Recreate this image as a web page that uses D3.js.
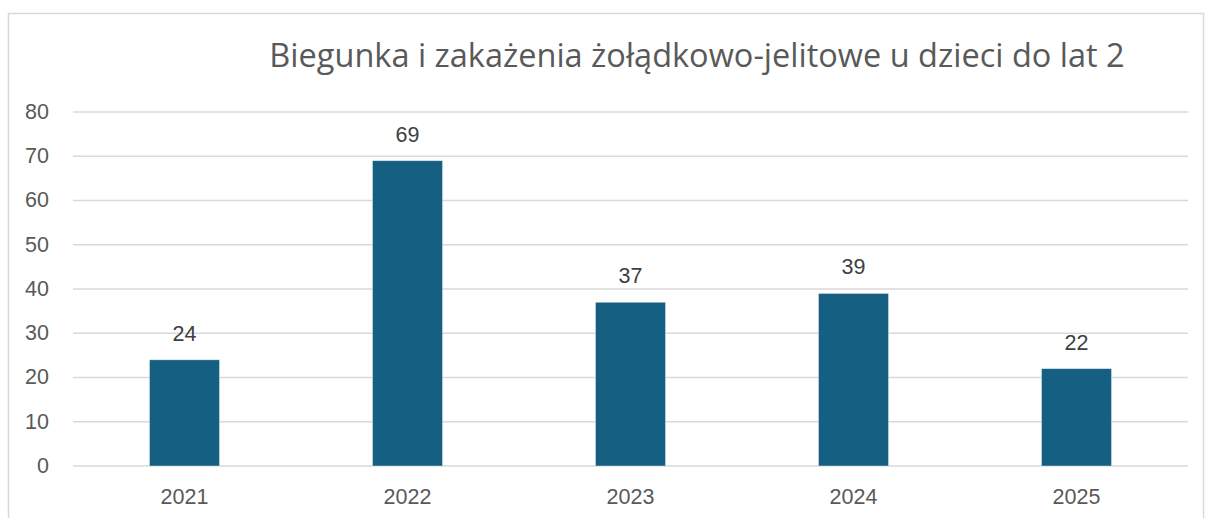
<!DOCTYPE html>
<html>
<head>
<meta charset="utf-8">
<script src="https://cdn.jsdelivr.net/npm/d3@7"></script>
<style>
  body { margin: 0; background: #fff; }
  svg { display: block; }
</style>
</head>
<body>
<svg id="chart" width="1207" height="518"></svg>
<script>
const years = ['2021', '2022', '2023', '2024', '2025'];
const cases = [24, 69, 37, 39, 22];
const yTicks = [0, 10, 20, 30, 40, 50, 60, 70, 80];
const title = 'Biegunka i zakażenia żołądkowo-jelitowe u dzieci do lat 2';

const svg = d3.select('#chart');
const cs = {
  bar: '#156082',
  grid: '#d9d9d9',
  text: '#595959',
  label: '#404040',
  font: '"Liberation Sans", Arial, sans-serif',
  fontSize: '21.5px',
  left: 73,
  right: 1188,
  top: 112,
  bottom: 466,
};

// chart frame
svg.append('rect')
  .attr('x', 8.5).attr('y', 13.5)
  .attr('width', 1195).attr('height', 520)
  .attr('fill', '#fff')
  .attr('stroke', '#d9d9d9')
  .attr('stroke-width', 1.5);

const x = d3.scaleBand().domain(years).range([cs.left, cs.right]).paddingInner(0.686).paddingOuter(0.343);
const y = d3.scaleLinear().domain([0, 80]).range([cs.bottom, cs.top]);

// gridlines
svg.append('g')
  .selectAll('line')
  .data(yTicks)
  .join('line')
  .attr('x1', cs.left).attr('x2', cs.right)
  .attr('y1', d => y(d)).attr('y2', d => y(d))
  .attr('stroke', cs.grid)
  .attr('stroke-width', 1.5);

// y axis labels
const yAxis = svg.append('g')
  .attr('transform', `translate(${cs.left - 24},0)`)
  .call(d3.axisLeft(y).tickValues(yTicks).tickSize(0).tickPadding(0));
yAxis.select('.domain').remove();
yAxis.selectAll('text')
  .attr('fill', cs.text)
  .attr('dy', '0.3em')
  .style('font-family', cs.font)
  .style('font-size', cs.fontSize);

// bars
svg.append('g')
  .selectAll('rect')
  .data(cases)
  .join('rect')
  .attr('x', (d, i) => x(years[i]))
  .attr('y', d => y(d))
  .attr('width', x.bandwidth())
  .attr('height', d => y(0) - y(d))
  .attr('fill', cs.bar)
  .attr('stroke', '#ffffff')
  .attr('stroke-opacity', 0.5)
  .attr('stroke-width', 0.75);

// value labels
svg.append('g')
  .selectAll('text')
  .data(cases)
  .join('text')
  .attr('x', (d, i) => x(years[i]) + x.bandwidth() / 2)
  .attr('y', d => y(d) - 19)
  .attr('text-anchor', 'middle')
  .attr('fill', cs.label)
  .style('font-family', cs.font)
  .style('font-size', cs.fontSize)
  .text(d => d);

// x axis labels
const xAxis = svg.append('g')
  .attr('transform', `translate(0,${cs.bottom})`)
  .call(d3.axisBottom(x).tickSize(0).tickPadding(0));
xAxis.select('.domain').remove();
xAxis.selectAll('text')
  .attr('fill', cs.text)
  .attr('dy', null)
  .attr('y', 38)
  .style('font-family', cs.font)
  .style('font-size', cs.fontSize);

// title
svg.append('text')
  .attr('x', 697)
  .attr('y', 67)
  .attr('text-anchor', 'middle')
  .attr('fill', cs.text)
  .style('font-family', '"Open Sans", sans-serif')
  .style('font-size', '32.5px')
  .text(title);
</script>
</body>
</html>
